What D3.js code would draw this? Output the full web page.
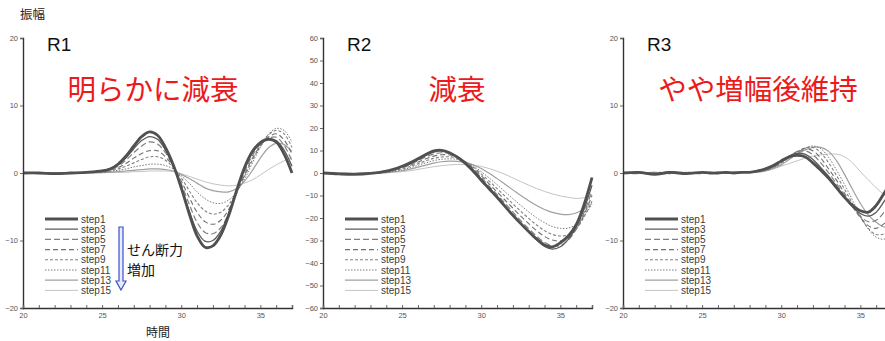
<!DOCTYPE html>
<html>
<head>
<meta charset="utf-8">
<script src="https://cdn.jsdelivr.net/npm/d3@7"></script>
<style>
  body { margin: 0; background: #fff; }
  text { font-family: "Liberation Sans", Arial, sans-serif; }
  .jp { font-family: "Noto Sans CJK JP", sans-serif; }
</style>
</head>
<body>
<div id="chart"></div>
<script>
// data
var steps = ["step1", "step3", "step5", "step7", "step9", "step11", "step13", "step15"];
var times = [20, 21, 22, 23, 24, 25, 25.5, 26, 26.5, 27, 27.5, 28, 28.5, 29, 29.5, 30,
             30.5, 31, 31.5, 32, 32.5, 33, 33.5, 34, 34.5, 35, 35.5, 36, 36.5, 37];

var r1 = [
  [0, 0, -0.1, 0, 0.1, 0.3, 0.6, 1.3, 2.5, 4.0, 5.4, 6.1, 5.6, 3.8, 1.2, -2.2, -6.0, -9.3, -11.0, -10.8, -9.2, -6.3, -2.6, 0.8, 3.2, 4.5, 5.0, 4.6, 2.8, 0],
  [0, 0, -0.1, 0, 0.1, 0.3, 0.6, 1.2, 2.2, 3.6, 4.8, 5.4, 5.0, 3.4, 1.0, -2.0, -5.6, -8.6, -10.1, -10.0, -8.6, -5.9, -2.5, 0.6, 3.0, 4.4, 5.0, 4.8, 3.4, 1.0],
  [0, 0, 0, 0, 0.1, 0.3, 0.5, 1.0, 1.9, 3.0, 4.0, 4.6, 4.3, 3.0, 1.0, -1.6, -4.6, -7.3, -8.8, -9.0, -8.1, -6.0, -3.0, 0.1, 2.6, 4.2, 5.1, 5.3, 4.1, 1.8],
  [0, 0, 0, 0, 0.1, 0.2, 0.4, 0.8, 1.4, 2.2, 2.9, 3.3, 3.3, 2.4, 0.9, -1.2, -3.6, -5.8, -7.2, -7.6, -7.0, -5.4, -3.0, -0.3, 2.2, 4.0, 5.3, 5.8, 4.9, 2.8],
  [0, 0, 0, 0, 0.1, 0.2, 0.3, 0.6, 1.0, 1.5, 2.0, 2.4, 2.4, 1.9, 0.8, -0.7, -2.6, -4.4, -5.6, -6.1, -5.8, -4.7, -2.8, -0.5, 1.9, 4.0, 5.6, 6.3, 5.8, 3.8],
  [0, 0, 0, 0, 0.1, 0.1, 0.2, 0.4, 0.6, 0.9, 1.1, 1.3, 1.3, 1.1, 0.6, -0.4, -1.5, -2.8, -3.8, -4.4, -4.5, -4.0, -2.8, -0.9, 1.5, 3.8, 5.7, 6.6, 6.3, 4.6],
  [0, 0, 0, 0, 0, 0.1, 0.1, 0.2, 0.3, 0.4, 0.5, 0.6, 0.6, 0.5, 0.3, -0.2, -0.8, -1.5, -2.2, -2.6, -2.8, -2.8, -2.3, -1.2, 0.4, 2.2, 3.7, 4.4, 4.2, 3.2],
  [0, 0, 0, 0, 0, 0, 0.1, 0.1, 0.1, 0.2, 0.2, 0.3, 0.3, 0.3, 0.2, -0.1, -0.5, -0.9, -1.3, -1.6, -1.8, -1.9, -1.8, -1.5, -1.0, -0.3, 0.5, 1.2, 1.8, 2.3]
];

var r2 = [
  [0, -0.4, -0.6, -0.2, 0.8, 3.0, 4.5, 6.3, 8.2, 9.8, 10.1, 9.0, 7.0, 4.3, 0.8, -3.2, -7.0, -10.8, -14.8, -18.8, -22.5, -26.0, -29.3, -32.0, -32.8, -31.0, -28.0, -23.0, -14.0, -2.0],
  [0, -0.4, -0.6, -0.2, 0.7, 2.8, 4.2, 5.9, 7.8, 9.3, 9.8, 9.0, 7.2, 4.5, 1.2, -2.7, -6.6, -10.5, -14.5, -18.7, -22.7, -26.4, -29.8, -32.6, -33.8, -32.8, -29.5, -24.0, -16.0, -5.5],
  [0, -0.3, -0.5, -0.2, 0.6, 2.5, 3.8, 5.4, 7.1, 8.4, 9.0, 8.6, 7.2, 4.7, 1.6, -2.0, -5.8, -9.6, -13.4, -17.3, -21.2, -24.8, -28.0, -30.8, -32.4, -32.2, -29.8, -25.0, -17.5, -8.0],
  [0, -0.3, -0.4, -0.1, 0.5, 2.2, 3.4, 4.8, 6.3, 7.5, 8.1, 8.0, 7.0, 4.9, 2.1, -1.2, -4.8, -8.4, -12.0, -15.6, -19.2, -22.5, -25.6, -28.2, -29.8, -30.2, -28.8, -25.0, -18.5, -10.0],
  [0, -0.2, -0.3, -0.1, 0.4, 1.8, 2.9, 4.1, 5.4, 6.5, 7.1, 7.2, 6.6, 4.9, 2.6, -0.4, -3.6, -6.9, -10.3, -13.7, -17.0, -20.2, -23.1, -25.6, -27.3, -28.0, -27.4, -24.8, -19.5, -12.5],
  [0, -0.2, -0.2, -0.1, 0.3, 1.4, 2.3, 3.4, 4.5, 5.5, 6.1, 6.3, 6.0, 4.9, 3.1, 0.6, -2.2, -5.2, -8.3, -11.4, -14.4, -17.3, -19.9, -22.1, -23.8, -24.6, -24.5, -22.8, -19.0, -14.0],
  [0, -0.1, -0.1, 0, 0.2, 1.0, 1.7, 2.6, 3.5, 4.4, 5.0, 5.3, 5.2, 4.7, 3.6, 2.0, -0.1, -2.5, -5.0, -7.5, -10.0, -12.3, -14.4, -16.2, -17.5, -18.3, -18.5, -17.8, -16.0, -13.5],
  [0, 0, -0.1, 0, 0.1, 0.6, 1.0, 1.6, 2.2, 2.8, 3.3, 3.6, 3.8, 3.8, 3.5, 2.9, 2.0, 0.8, -0.6, -2.2, -3.8, -5.4, -6.9, -8.2, -9.3, -10.2, -10.8, -11.3, -11.0, -10.0]
];

var r3 = [
  [0, 0.1, -0.2, 0.1, -0.1, 0.1, 0, 0, 0.1, 0, 0.1, 0.1, 0.3, 0.6, 1.1, 1.8, 2.4, 2.6, 2.4, 1.5, 0.4, -0.8, -2.2, -3.6, -4.8, -5.6, -5.8, -4.8, -3.0, -1.0],
  [0, 0.1, -0.1, 0.2, -0.1, 0.1, 0, 0.1, 0, 0.1, 0.1, 0.1, 0.3, 0.6, 1.1, 1.8, 2.5, 2.9, 2.8, 2.0, 0.8, -0.5, -2.0, -3.6, -5.0, -6.0, -6.4, -5.8, -4.2, -2.2],
  [0, -0.1, 0.1, 0, 0.1, -0.1, 0.1, 0, 0.1, 0, 0.1, 0.1, 0.2, 0.5, 1.0, 1.7, 2.5, 3.1, 3.3, 2.7, 1.5, 0, -1.6, -3.3, -5.0, -6.4, -7.2, -7.0, -5.8, -4.0],
  [0, 0, -0.1, 0.1, 0, 0.1, 0, 0.1, 0, 0.1, 0.1, 0.1, 0.2, 0.5, 0.9, 1.6, 2.4, 3.2, 3.6, 3.3, 2.2, 0.6, -1.1, -3.0, -4.9, -6.6, -7.8, -8.2, -7.5, -6.0],
  [0, 0.1, 0, -0.1, 0.1, 0, 0.1, 0, 0.1, 0, 0.1, 0.1, 0.2, 0.4, 0.9, 1.5, 2.3, 3.1, 3.7, 3.8, 3.0, 1.5, -0.4, -2.4, -4.5, -6.5, -8.2, -9.1, -9.0, -8.0],
  [0, 0, 0.1, 0, -0.1, 0.1, 0, 0.1, 0, 0.1, 0, 0.1, 0.2, 0.4, 0.8, 1.4, 2.2, 3.0, 3.7, 4.0, 3.6, 2.3, 0.4, -1.7, -4.0, -6.3, -8.3, -9.5, -9.8, -9.0],
  [0, 0, 0, 0.1, 0, 0, 0.1, 0, 0.1, 0, 0.1, 0.1, 0.1, 0.3, 0.7, 1.2, 2.0, 2.8, 3.4, 3.8, 3.8, 3.2, 1.8, -0.2, -2.4, -4.5, -6.2, -7.3, -8.0, -8.0],
  [0, 0, 0, 0, 0, 0, 0, 0, 0.1, 0.1, 0.1, 0.1, 0.2, 0.3, 0.6, 1.0, 1.4, 1.8, 2.2, 2.5, 2.7, 2.8, 2.8, 2.4, 1.5, 0.2, -1.0, -2.2, -3.2, -4.0]
];

var xTicks = [20, 25, 30, 35];
var yTicksSmall = [-20, -10, 0, 10, 20];
var yTicksBig = [-60, -50, -40, -30, -20, -10, 0, 10, 20, 30, 40, 50, 60];

var panels = [
  {name: "R1", note: "明らかに減衰", noteX: 153, data: r1, ymax: 20, ticks: yTicksSmall, left: 23},
  {name: "R2", note: "減衰", noteX: 457, data: r2, ymax: 60, ticks: yTicksBig, left: 323},
  {name: "R3", note: "やや増幅後維持", noteX: 758, data: r3, ymax: 20, ticks: yTicksSmall, left: 623}
];

// line look for each step
var lineStyle = [
  {w: 2.8, c: "#505050", dash: null},
  {w: 1.3, c: "#5a5a5a", dash: null},
  {w: 1.2, c: "#808080", dash: "6,3"},
  {w: 1.1, c: "#707070", dash: "5,3"},
  {w: 1.1, c: "#808080", dash: "3,2"},
  {w: 1.0, c: "#7a7a7a", dash: "1.5,1.5"},
  {w: 1.2, c: "#a0a0a0", dash: null},
  {w: 1.0, c: "#c4c4c4", dash: null}
];

var W = 885, H = 341;
var plotTop = 38, plotBottom = 308;

var svg = d3.select("#chart").append("svg")
  .attr("width", W)
  .attr("height", H);

svg.append("text")
  .attr("class", "jp")
  .attr("x", 20).attr("y", 19)
  .attr("font-size", 12.5)
  .attr("fill", "#222")
  .text("振幅");

panels.forEach(function(p) {
  var x = d3.scaleLinear().domain([20, 37]).range([p.left, p.left + 269]);
  var y = d3.scaleLinear().domain([-p.ymax, p.ymax]).range([plotBottom, plotTop]);
  var g = svg.append("g");

  // curves, light ones first so step1 ends on top
  var line = d3.line()
    .x(function(d, i) { return x(times[i]); })
    .y(function(d) { return y(d); })
    .curve(d3.curveCatmullRom);

  for (var s = p.data.length - 1; s >= 0; s--) {
    var st = lineStyle[s];
    g.append("path")
      .attr("d", line(p.data[s]))
      .attr("fill", "none")
      .attr("stroke", st.c)
      .attr("stroke-width", st.w)
      .attr("stroke-dasharray", st.dash);
  }

  // y axis
  var yAxis = g.append("g")
    .attr("transform", "translate(" + p.left + ",0)")
    .call(d3.axisLeft(y).tickValues(p.ticks).tickSize(3).tickPadding(2));
  yAxis.select(".domain").attr("stroke", "#333").attr("stroke-width", 1.4);
  yAxis.selectAll(".tick line").attr("stroke", "#666");
  yAxis.selectAll("text").attr("font-size", 7.5).attr("fill", "#555");

  // x axis, minor ticks pointing in
  var xAxis = g.append("g")
    .attr("transform", "translate(0," + plotBottom + ")")
    .call(d3.axisBottom(x).tickValues(d3.range(20, 38)).tickSize(-3).tickPadding(5)
      .tickFormat(function(d) { return xTicks.indexOf(d) >= 0 ? d : ""; }));
  xAxis.select(".domain").attr("stroke", "#333").attr("stroke-width", 1.4);
  xAxis.selectAll(".tick line").attr("stroke", "#666");
  xAxis.selectAll("text").attr("font-size", 7.5).attr("fill", "#555");

  // panel name and note
  g.append("text")
    .attr("x", p.left + 24).attr("y", 51)
    .attr("font-size", 19)
    .attr("fill", "#111")
    .text(p.name);
  g.append("text")
    .attr("class", "jp")
    .attr("x", p.noteX).attr("y", 100)
    .attr("text-anchor", "middle")
    .attr("font-size", 28.5)
    .attr("fill", "#ec1a1a")
    .text(p.note);

  // legend
  var lg = g.append("g").attr("transform", "translate(" + (p.left + 22) + ",219)");
  steps.forEach(function(name, i) {
    var st = lineStyle[i];
    lg.append("line")
      .attr("x1", 0).attr("x2", 33)
      .attr("y1", i * 10.2).attr("y2", i * 10.2)
      .attr("stroke", st.c)
      .attr("stroke-width", st.w)
      .attr("stroke-dasharray", st.dash);
    lg.append("text")
      .attr("x", 36).attr("y", i * 10.2 + 3.6)
      .attr("font-size", 10)
      .attr("fill", "#3a3a3a")
      .text(name);
  });
});

// blue arrow and label in R1
svg.append("path")
  .attr("d", "M119,227 L123,227 L123,281 L126,281 L121,290 L116,281 L119,281 Z")
  .attr("fill", "#e8ecff")
  .attr("stroke", "#3a50c8")
  .attr("stroke-width", 1.2);

svg.append("text")
  .attr("class", "jp")
  .attr("x", 127).attr("y", 255)
  .attr("font-size", 14)
  .attr("fill", "#111")
  .text("せん断力");
svg.append("text")
  .attr("class", "jp")
  .attr("x", 127).attr("y", 275)
  .attr("font-size", 14)
  .attr("fill", "#111")
  .text("増加");

svg.append("text")
  .attr("class", "jp")
  .attr("x", 158).attr("y", 337)
  .attr("text-anchor", "middle")
  .attr("font-size", 12)
  .attr("fill", "#222")
  .text("時間");
</script>
</body>
</html>
